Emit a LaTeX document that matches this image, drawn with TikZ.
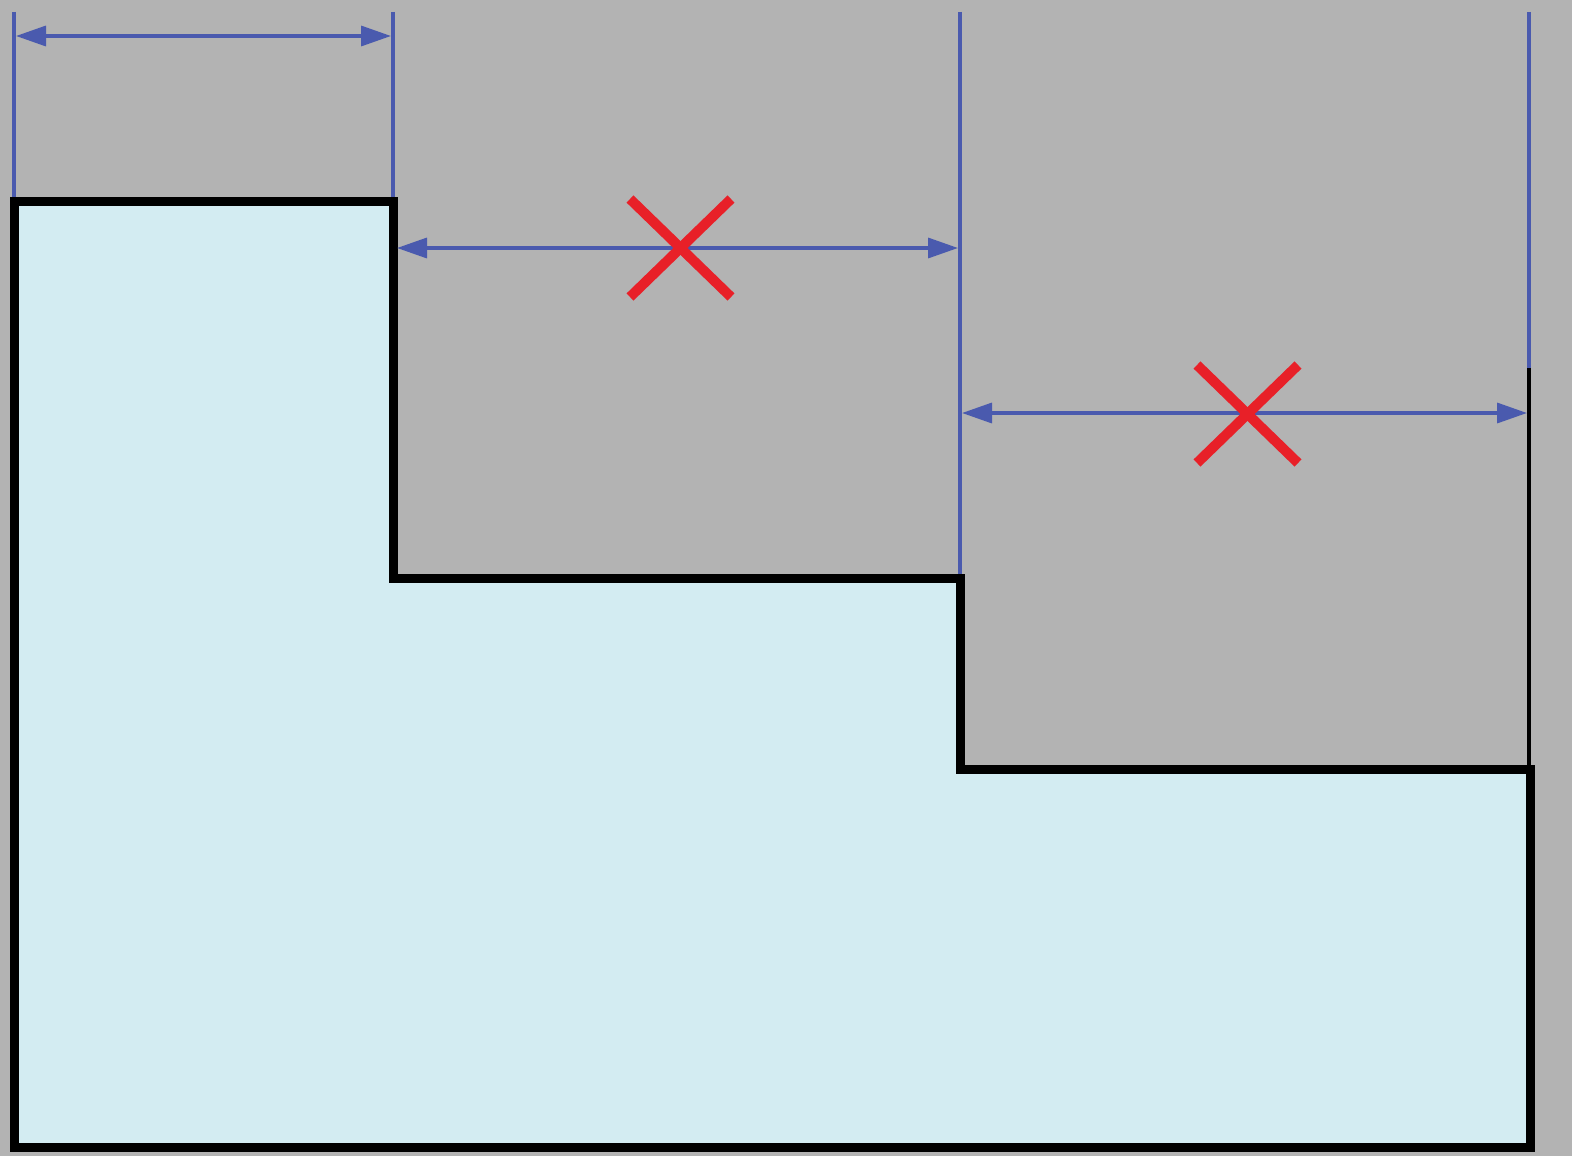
\documentclass[tikz,border=0pt]{standalone}
\usetikzlibrary{arrows.meta}
\definecolor{bggray}{RGB}{179,179,179}
\definecolor{fillblue}{RGB}{211,236,242}
\definecolor{dimblue}{RGB}{74,90,174}
\definecolor{crossred}{RGB}{232,32,40}
\tikzset{
  extline/.style={draw=dimblue, line width=1.7pt},
  dimline/.style={draw=dimblue, line width=1.7pt, {Triangle[length=15pt,width=10pt]}-{Triangle[length=15pt,width=10pt]}},
  outline/.style={draw=black, line width=4.5pt, line join=miter, fill=fillblue},
  crossline/.style={draw=crossred, line width=5pt}
}
\begin{document}
\begin{tikzpicture}[x=0.5pt,y=-0.5pt]
\fill[bggray] (0,0) rectangle (1572,1156);
\useasboundingbox (0,0) rectangle (1572,1156);
% extension lines
\draw[extline] (14,12) -- (14,201);
\draw[extline] (393,12) -- (393,201);
\draw[extline] (960,12) -- (960,578);
\draw[extline] (1529,12) -- (1529,368);
\draw[draw=black, line width=1.7pt] (1529,368) -- (1529,769);
% part outline
\draw[outline] (14,201) -- (393,201) -- (393,578) -- (960,578) -- (960,769) -- (1530,769) -- (1530,1147) -- (14,1147) -- cycle;
% dimension arrows
\coordinate (a1) at (16,36);  \coordinate (b1) at (391,36);
\coordinate (a2) at (397,248); \coordinate (b2) at (958,248);
\coordinate (a3) at (962,413); \coordinate (b3) at (1527,413);
\draw[dimline] (a1) -- (b1);
\draw[dimline] (a2) -- (b2);
\draw[dimline] (a3) -- (b3);
% red crosses
\draw[crossline] (630,199) -- (731,297);
\draw[crossline] (630,297) -- (731,199);
\draw[crossline] (1197,365) -- (1298,463);
\draw[crossline] (1197,463) -- (1298,365);
\end{tikzpicture}
\end{document}
